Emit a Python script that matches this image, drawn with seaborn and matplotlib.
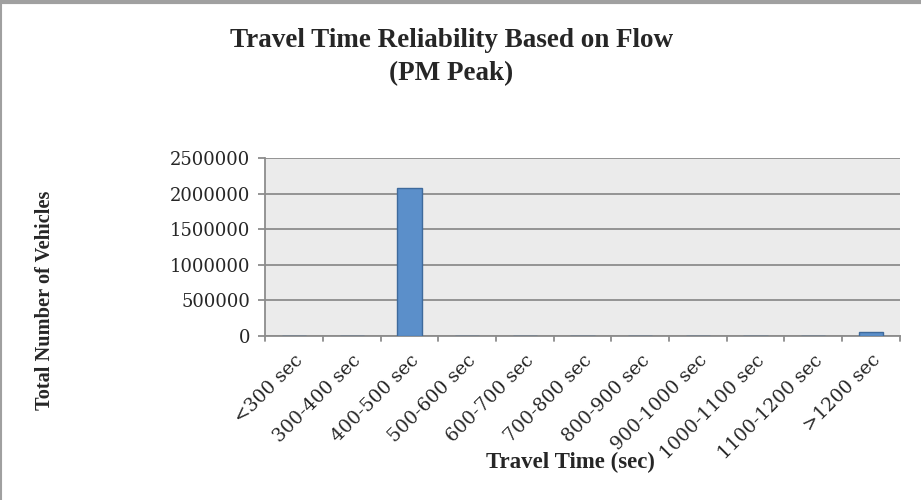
import numpy as np
import pandas as pd
import matplotlib.pyplot as plt
import seaborn as sns

categories = ["<300 sec", "300-400 sec", "400-500 sec", "500-600 sec", "600-700 sec",
              "700-800 sec", "800-900 sec", "900-1000 sec", "1000-1100 sec",
              "1100-1200 sec", ">1200 sec"]
vehicles = [0, 0, 2085000, 0, 0, 0, 0, 0, 0, 0, 50000]
y_ticks = [0, 500000, 1000000, 1500000, 2000000, 2500000]

df = pd.DataFrame({"cat": categories, "n": vehicles})

sns.set_theme(style="white")
plt.rcParams["font.family"] = ["Liberation Serif", "DejaVu Serif"]
tick_font = ["DejaVu Serif"]

fig = plt.figure(figsize=(9.21, 5), dpi=100)
ax = fig.add_axes([0.288, 0.328, 0.689, 0.356])
ax.set_facecolor("#EBEBEB")

sns.barplot(data=df, x="cat", y="n", color="#5B8FCA", width=0.42,
            edgecolor="#3E6A9C", linewidth=1, saturation=1, ax=ax, zorder=3)

ax.set_ylim(0, 2500000)
ax.set_yticks(y_ticks)
ax.set_yticklabels([str(v) for v in y_ticks], fontsize=13, family=tick_font)
ax.yaxis.grid(True, color="#8C8C8C", linewidth=1.3, zorder=0)
ax.set_axisbelow(True)
ax.set_xlim(-0.5, len(categories) - 0.5)

# x ticks at category boundaries, labels at centres
ax.set_xticks(np.arange(len(categories)))
ax.set_xticklabels(categories, rotation=45, ha="right", rotation_mode="anchor",
                   fontsize=13.5, family=tick_font)
ax.tick_params(axis="x", length=0, pad=11)
for b in np.arange(-0.5, len(categories), 1):
    ax.plot([b, b], [0, -0.03], transform=ax.get_xaxis_transform(), color="#8C8C8C",
            linewidth=1.3, clip_on=False)
ax.tick_params(axis="y", left=True, length=5, color="#8C8C8C", width=1.3, pad=6)

for side in ["top", "right"]:
    ax.spines[side].set_visible(False)
for side in ["left", "bottom"]:
    ax.spines[side].set_color("#8C8C8C")
    ax.spines[side].set_linewidth(1.3)

ax.set_xlabel("")
ax.set_ylabel("")
fig.text(0.619, 0.076, "Travel Time (sec)", ha="center", va="center",
         fontsize=16.5, fontweight="bold")
fig.text(0.049, 0.4, "Total Number of Vehicles", ha="center", va="center",
         rotation=90, fontsize=14.7, fontweight="bold")
fig.text(0.49, 0.886, "Travel Time Reliability Based on Flow\n(PM Peak)", ha="center",
         va="center", fontsize=19.5, fontweight="bold", linespacing=1.4)

# outer frame of chart area
fig.add_artist(plt.Line2D([0, 1], [0.997, 0.997], color="#A0A0A0", linewidth=3,
                          transform=fig.transFigure))
fig.add_artist(plt.Line2D([0.001, 0.001], [0, 1], color="#A0A0A0", linewidth=1.5,
                          transform=fig.transFigure))

fig.savefig("out.png", dpi=100)
